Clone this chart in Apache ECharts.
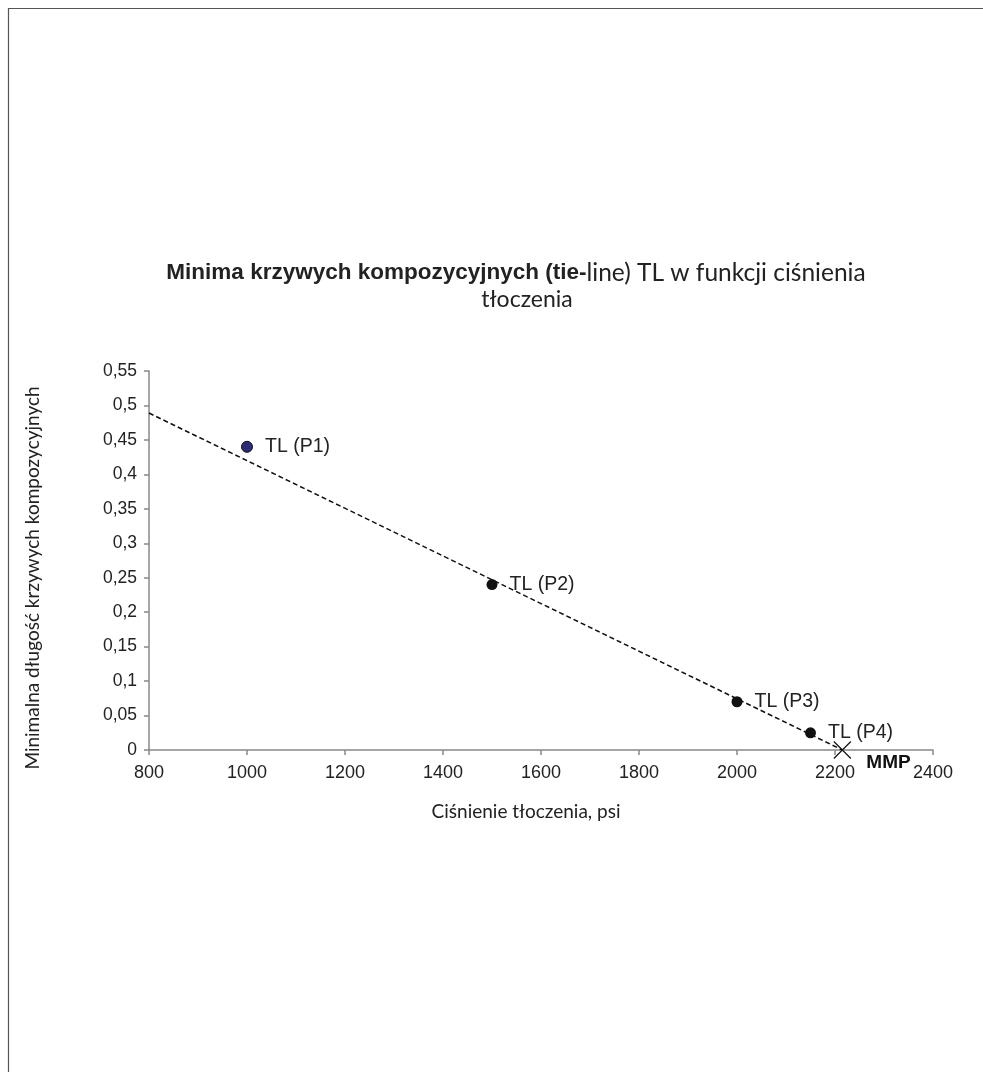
<!DOCTYPE html>
<html>
<head>
<meta charset="utf-8">
<script src="https://cdn.jsdelivr.net/npm/echarts@6/dist/echarts.min.js"></script>
<style>
html,body{margin:0;padding:0;background:#fff;}
#chart{width:983px;height:1072px;}
</style>
</head>
<body>
<div id="chart"></div>
<script>
// Data
const pointLabels = ['TL (P1)', 'TL (P2)', 'TL (P3)', 'TL (P4)'];
const pressures = [1000, 1500, 2000, 2150];
const minLengths = [0.44, 0.24, 0.07, 0.025];
const trendX = [800, 2215];
const trendY = [0.489, 0];
const mmpX = [2215];
const mmpY = [0];
const xTicks = [800, 1000, 1200, 1400, 1600, 1800, 2000, 2200, 2400];

const chart = echarts.init(document.getElementById('chart'), null, {renderer: 'canvas'});

const pointData = pressures.map((p, i) => ({
  value: [p, minLengths[i]],
  name: pointLabels[i],
  itemStyle: i === 0 ? {color: '#2b2b78', borderColor: '#111', borderWidth: 1, opacity: 1} : {color: '#111', opacity: 1}
}));

const option = {
  backgroundColor: '#fff',
  animation: false,
  graphic: [
    {
      type: 'rect', silent: true,
      shape: {x: 8.5, y: 8.5, width: 1000, height: 1100},
      style: {fill: 'none', stroke: '#555', lineWidth: 1.2}
    },
    {
      type: 'text',
      x: 516, y: 273,
      style: {
        text: '{b|Minima krzywych kompozycyjnych (tie-}{n|line) TL w funkcji ciśnienia}',
        align: 'center', verticalAlign: 'middle',
        rich: {
          b: {fontFamily: 'Liberation Sans', fontWeight: 'bold', fontSize: 22.5, fill: '#222'},
          n: {fontFamily: 'Lato', fontWeight: 'normal', fontSize: 24.5, fill: '#222'}
        }
      }
    },
    {
      type: 'text',
      x: 527, y: 300,
      style: {
        text: 'tłoczenia',
        fontFamily: 'Lato', fontSize: 23, fill: '#222',
        align: 'center', verticalAlign: 'middle'
      }
    },
    {
      type: 'text',
      x: 33, y: 578, rotation: Math.PI / 2,
      style: {
        text: 'Minimalna długość krzywych kompozycyjnych',
        fontFamily: 'Lato', fontSize: 19, fill: '#222',
        align: 'center', verticalAlign: 'middle'
      }
    },
    {
      type: 'text',
      x: 526, y: 812,
      style: {
        text: 'Ciśnienie tłoczenia, psi',
        fontFamily: 'Lato', fontSize: 19, fill: '#222',
        align: 'center', verticalAlign: 'middle'
      }
    }
  ],
  grid: {left: 149, right: 50, top: 371, bottom: 322, containLabel: false},
  xAxis: {
    type: 'value',
    min: 800, max: 2400, interval: 200,
    axisLine: {show: true, lineStyle: {color: '#888', width: 1.5}},
    axisTick: {show: true, length: 5, lineStyle: {color: '#888', width: 1.5}},
    splitLine: {show: false},
    axisLabel: {
      fontFamily: 'Liberation Sans', fontSize: 18, color: '#222', margin: 14,
      formatter: v => xTicks.includes(v) ? String(v) : ''
    }
  },
  yAxis: {
    type: 'value',
    min: 0, max: 0.55, interval: 0.05,
    axisLine: {show: true, lineStyle: {color: '#888', width: 1.5}},
    axisTick: {show: true, length: 5, lineStyle: {color: '#888', width: 1.5}},
    splitLine: {show: false},
    axisLabel: {
      fontFamily: 'Liberation Sans', fontSize: 17.5, color: '#222', margin: 12,
      formatter: v => String(Math.round(v * 100) / 100).replace('.', ',')
    }
  },
  series: [
    {
      type: 'line',
      data: trendX.map((x, i) => [x, trendY[i]]),
      symbol: 'none',
      lineStyle: {color: '#111', width: 1.5, type: [5, 3]},
      z: 2
    },
    {
      type: 'scatter',
      data: pointData,
      symbol: 'circle',
      symbolSize: 11,
      itemStyle: {opacity: 1},
      label: {
        show: true, position: 'right', distance: 12,
        formatter: p => p.name,
        fontFamily: 'Liberation Sans', fontSize: 19.5, color: '#222', opacity: 1
      },
      z: 3
    },
    {
      type: 'scatter',
      data: mmpX.map((x, i) => ({value: [x, mmpY[i]], name: 'MMP'})),
      symbol: 'path://M0,0L10,10M10,0L0,10',
      symbolSize: 17,
      itemStyle: {color: 'none', borderColor: '#111', borderWidth: 1.2, opacity: 1},
      label: {
        show: true, position: 'right', distance: 13, offset: [0, 13],
        formatter: 'MMP',
        fontFamily: 'Liberation Sans', fontWeight: 'bold', fontSize: 19, color: '#111', opacity: 1
      },
      z: 4
    }
  ]
};
chart.setOption(option);
</script>
</body>
</html>
